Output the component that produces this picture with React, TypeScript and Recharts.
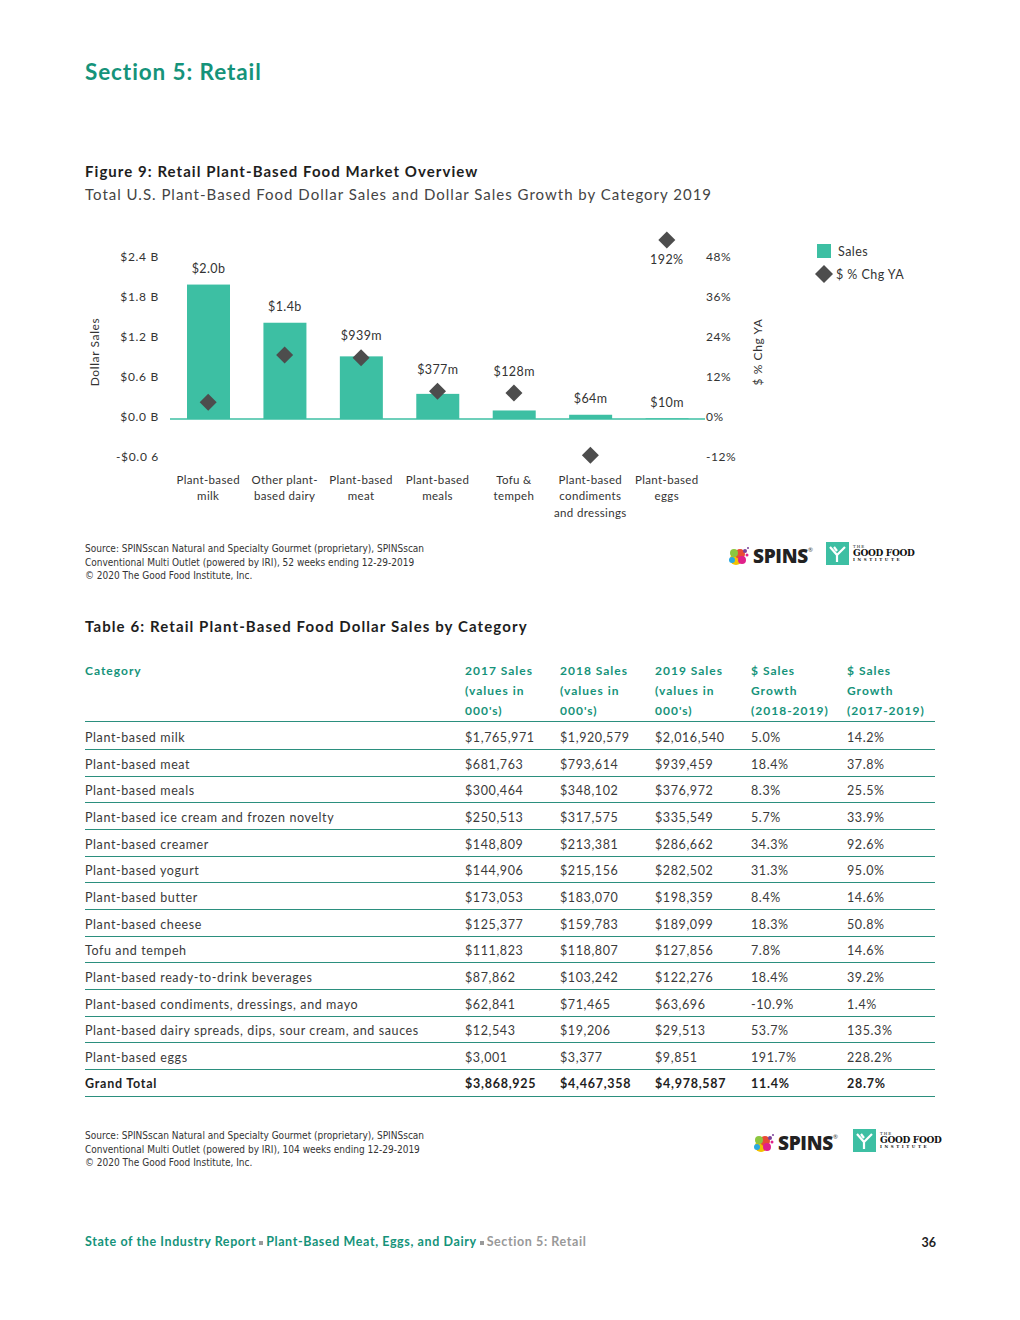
import React from 'react';
import { ComposedChart, Bar, Scatter, XAxis, YAxis, Legend, ReferenceLine } from 'recharts';

// ---------- chart data ----------
const categories = [
  'Plant-based milk',
  'Other plant-based dairy',
  'Plant-based meat',
  'Plant-based meals',
  'Tofu & tempeh',
  'Plant-based condiments and dressings',
  'Plant-based eggs',
];
const categoryLines = [
  ['Plant-based', 'milk'],
  ['Other plant-', 'based dairy'],
  ['Plant-based', 'meat'],
  ['Plant-based', 'meals'],
  ['Tofu &', 'tempeh'],
  ['Plant-based', 'condiments', 'and dressings'],
  ['Plant-based', 'eggs'],
];
const salesB = [2.0165, 1.444, 0.9395, 0.377, 0.1279, 0.0637, 0.00985];
const salesLabels = ['$2.0b', '$1.4b', '$939m', '$377m', '$128m', '$64m', '$10m'];
const pctChg = [5.0, 19.2, 18.4, 8.3, 7.8, -10.9, 191.7];
const pctLabels = ['', '', '', '', '', '', '192%'];
const leftTicks = [-0.6, 0, 0.6, 1.2, 1.8, 2.4];
const leftTickLabels = ['-$0.0 6', '$0.0 B', '$0.6 B', '$1.2 B', '$1.8 B', '$2.4 B'];
const rightTicks = [-12, 0, 12, 24, 36, 48];
const rightTickLabels = ['-12%', '0%', '12%', '24%', '36%', '48%'];

const LEFT_DOMAIN: [number, number] = [-0.6, 2.7];
const RIGHT_DOMAIN: [number, number] = [-12, 54];
const PCT_CAP = 53.7; // values above the axis are drawn at its top edge
const PCT_TO_B = (LEFT_DOMAIN[1] - LEFT_DOMAIN[0]) / (RIGHT_DOMAIN[1] - RIGHT_DOMAIN[0]);

const chartData = categories.map((c, i) => ({
  category: c,
  sales: salesB[i],
  salesLabel: salesLabels[i],
  pct: Math.min(pctChg[i], PCT_CAP),
  pctLabel: pctLabels[i],
}));

// ---------- table data ----------
const tableCategories = [
  'Plant-based milk',
  'Plant-based meat',
  'Plant-based meals',
  'Plant-based ice cream and frozen novelty',
  'Plant-based creamer',
  'Plant-based yogurt',
  'Plant-based butter',
  'Plant-based cheese',
  'Tofu and tempeh',
  'Plant-based ready-to-drink beverages',
  'Plant-based condiments, dressings, and mayo',
  'Plant-based dairy spreads, dips, sour cream, and sauces',
  'Plant-based eggs',
];
const sales2017 = ['$1,765,971', '$681,763', '$300,464', '$250,513', '$148,809', '$144,906', '$173,053', '$125,377', '$111,823', '$87,862', '$62,841', '$12,543', '$3,001'];
const sales2018 = ['$1,920,579', '$793,614', '$348,102', '$317,575', '$213,381', '$215,156', '$183,070', '$159,783', '$118,807', '$103,242', '$71,465', '$19,206', '$3,377'];
const sales2019 = ['$2,016,540', '$939,459', '$376,972', '$335,549', '$286,662', '$282,502', '$198,359', '$189,099', '$127,856', '$122,276', '$63,696', '$29,513', '$9,851'];
const growth1819 = ['5.0%', '18.4%', '8.3%', '5.7%', '34.3%', '31.3%', '8.4%', '18.3%', '7.8%', '18.4%', '-10.9%', '53.7%', '191.7%'];
const growth1719 = ['14.2%', '37.8%', '25.5%', '33.9%', '92.6%', '95.0%', '14.6%', '50.8%', '14.6%', '39.2%', '1.4%', '135.3%', '228.2%'];
const grandTotal = ['Grand Total', '$3,868,925', '$4,467,358', '$4,978,587', '11.4%', '28.7%'];
const tableHeaders = [
  ['Category'],
  ['2017 Sales', '(values in', "000's)"],
  ['2018 Sales', '(values in', "000's)"],
  ['2019 Sales', '(values in', "000's)"],
  ['$ Sales', 'Growth', '(2018-2019)'],
  ['$ Sales', 'Growth', '(2017-2019)'],
];

// ---------- styles ----------
const FONT = "Lato, 'Open Sans', 'Noto Sans', sans-serif";
const NARROW = "'Liberation Sans Narrow', 'Arial Narrow', 'DejaVu Sans Condensed', sans-serif";
const TEAL = '#3dbfa3';
const DARK_TEAL = '#15937a';
const LINE_TEAL = '#2b8f7e';
const DIAMOND = '#4d4d4d';
const TEXT = '#333333';

const colX = [85, 465, 560, 655, 751, 847];
const ROW_H = 26.65;
const ROW_TOP = 724;

// ---------- chart pieces ----------
const XTick = (props: any) => {
  const { x, y, payload } = props;
  const idx = categories.indexOf(payload.value);
  const lines = idx >= 0 ? categoryLines[idx] : [payload.value];
  return (
    <g>
      {lines.map((l: string, i: number) => (
        <text key={i} x={x} y={y + 20 + i * 16.5} textAnchor="middle" dominantBaseline="central"
          fontSize={11.5} fill={TEXT} fontFamily={FONT} letterSpacing={0.35}>
          {l}
        </text>
      ))}
    </g>
  );
};

const LeftTick = (props: any) => {
  const { x, y, payload } = props;
  const i = leftTicks.indexOf(payload.value);
  return (
    <text x={x} y={y - 3} textAnchor="end" dominantBaseline="central" fontSize={12} fill={TEXT}
      fontFamily={FONT} letterSpacing={0.7}>
      {i >= 0 ? leftTickLabels[i] : ''}
    </text>
  );
};

const RightTick = (props: any) => {
  const { x, y, payload } = props;
  const i = rightTicks.indexOf(payload.value);
  return (
    <text x={x} y={y - 3} textAnchor="start" dominantBaseline="central" fontSize={12} fill={TEXT}
      fontFamily={FONT} letterSpacing={0.5}>
      {i >= 0 ? rightTickLabels[i] : ''}
    </text>
  );
};

const BarWithLabel = (props: any) => {
  const { x, y, width, height, payload } = props;
  const zeroY = y + height;
  const pxPerUnit = payload.sales !== 0 ? height / payload.sales : 0;
  const diamondY = zeroY - payload.pct * PCT_TO_B * pxPerUnit;
  let ly = y - 16;
  if (Math.abs(diamondY - (y - 8)) < 22) ly = diamondY - 22;
  return (
    <g>
      <rect x={x} y={y} width={width} height={Math.max(height, 0)} fill={TEAL} />
      <text x={x + width / 2} y={ly} textAnchor="middle" dominantBaseline="central" fontSize={12.5}
        fill={TEXT} fontFamily={FONT} letterSpacing={0.4}>
        {payload.salesLabel}
      </text>
    </g>
  );
};

const DiamondShape = (props: any) => {
  const { cx, cy, payload } = props;
  const r = 8.5;
  return (
    <g>
      <polygon points={`${cx},${cy - r} ${cx + r},${cy} ${cx},${cy + r} ${cx - r},${cy}`} fill={DIAMOND} />
      {payload && payload.pctLabel ? (
        <text x={cx} y={cy + 19} textAnchor="middle" dominantBaseline="central" fontSize={12.5}
          fill={TEXT} fontFamily={FONT} letterSpacing={0.4}>
          {payload.pctLabel}
        </text>
      ) : null}
    </g>
  );
};

const LeftAxisLabel = (props: any) => {
  const vb = props.viewBox || {};
  const cx = (vb.x || 0) + 14;
  const cy = (vb.y || 0) + (vb.height || 0) / 2 + 3;
  return (
    <text x={cx} y={cy} transform={`rotate(-90, ${cx}, ${cy})`} textAnchor="middle" dominantBaseline="central"
      fontSize={12} fill={TEXT} fontFamily={FONT} letterSpacing={0.6}>
      Dollar Sales
    </text>
  );
};

const RightAxisLabel = (props: any) => {
  const vb = props.viewBox || {};
  const cx = (vb.x || 0) + 52;
  const cy = (vb.y || 0) + (vb.height || 0) / 2 + 3;
  return (
    <text x={cx} y={cy} transform={`rotate(-90, ${cx}, ${cy})`} textAnchor="middle" dominantBaseline="central"
      fontSize={12} fill={TEXT} fontFamily={FONT} letterSpacing={0.6}>
      $ % Chg YA
    </text>
  );
};

const LegendContent = () => (
  <div style={{ fontFamily: FONT, fontSize: 12.5, color: TEXT, letterSpacing: 0.45 }}>
    <div style={{ display: 'flex', alignItems: 'center', height: 18, marginBottom: 5 }}>
      <span style={{ display: 'inline-block', width: 14, height: 14, background: TEAL, marginLeft: 0 }} />
      <span style={{ marginLeft: 7 }}>Sales</span>
    </div>
    <div style={{ display: 'flex', alignItems: 'center', height: 18 }}>
      <svg width={18} height={18} style={{ marginLeft: -2 }}>
        <polygon points="9,0 18,9 9,18 0,9" fill={DIAMOND} />
      </svg>
      <span style={{ marginLeft: 3 }}>$ % Chg YA</span>
    </div>
  </div>
);

const Chart = () => (
  <ComposedChart width={860} height={310} data={chartData}
    margin={{ top: 14, right: 175, bottom: 0, left: 0 }}>
    <XAxis dataKey="category" xAxisId="x" height={76} tickLine={false} tickSize={0} tickMargin={0}
      axisLine={false} tick={<XTick />} interval={0} />
    <YAxis yAxisId="left" orientation="left" width={90} domain={LEFT_DOMAIN} ticks={leftTicks}
      axisLine={false} tickLine={false} tickSize={0} tickMargin={11}
      tick={<LeftTick />} label={{ content: <LeftAxisLabel /> }} />
    <YAxis yAxisId="right" orientation="right" width={60} domain={RIGHT_DOMAIN} ticks={rightTicks}
      axisLine={false} tickLine={false} tickSize={0} tickMargin={1}
      tick={<RightTick />} label={{ content: <RightAxisLabel /> }} />
    <Legend layout="vertical" align="center" verticalAlign="middle" content={<LegendContent />}
      wrapperStyle={{ left: 737, top: 17, width: 130, right: 'auto', bottom: 'auto' }} />
    <ReferenceLine y={0} xAxisId="x" yAxisId="left" stroke={TEAL} strokeWidth={1.3} />
    <Bar dataKey="sales" name="Sales" xAxisId="x" yAxisId="left" barSize={43} fill={TEAL}
      shape={<BarWithLabel />} isAnimationActive={false} />
    <Scatter dataKey="pct" name="$ % Chg YA" xAxisId="x" yAxisId="right" fill={DIAMOND}
      shape={<DiamondShape />} isAnimationActive={false} />
  </ComposedChart>
);

// ---------- page pieces ----------
const SpinsLogo = ({ x, y }: { x: number; y: number }) => (
  <div style={{ position: 'absolute', left: x, top: y, display: 'flex', alignItems: 'center' }}>
    <svg width={24} height={22} viewBox="0 0 24 22">
      <circle cx={9} cy={14} r={6} fill="#f2c200" />
      <circle cx={13} cy={9} r={5} fill="#e94b35" />
      <circle cx={7} cy={8} r={4} fill="#8cc63f" />
      <circle cx={15} cy={15} r={4} fill="#e0218a" />
      <circle cx={5} cy={15} r={3} fill="#29a9e0" />
      <circle cx={18} cy={6} r={2} fill="#7b3f98" />
      <circle cx={20} cy={10} r={1.5} fill="#e0218a" />
      <circle cx={21} cy={3} r={1} fill="#7b3f98" />
    </svg>
    <span style={{ fontFamily: "'Open Sans', Roboto, sans-serif", fontWeight: 800, fontSize: 19, color: '#222', marginLeft: 2, letterSpacing: -0.3 }}>SPINS</span>
    <span style={{ fontSize: 6, color: '#444', alignSelf: 'flex-start', marginTop: 3 }}>®</span>
  </div>
);

const GfiLogo = ({ x, y }: { x: number; y: number }) => (
  <div style={{ position: 'absolute', left: x, top: y, display: 'flex', alignItems: 'center' }}>
    <svg width={23} height={23} viewBox="0 0 23 23">
      <rect x={0} y={0} width={23} height={23} fill="#3dbfa3" />
      <path d="M4 5 L11 13 L11 20 M11 13 L19 5 M8 5 L11 9" stroke="#ffffff" strokeWidth={2.2} fill="none" />
    </svg>
    <div style={{ marginLeft: 4, fontFamily: "'DejaVu Serif', serif", color: '#111', lineHeight: 1 }}>
      <div style={{ fontSize: 4, letterSpacing: 1 }}>THE</div>
      <div style={{ fontSize: 9, fontWeight: 700, letterSpacing: -0.3 }}>GOOD FOOD</div>
      <div style={{ fontSize: 4, letterSpacing: 2.6, fontWeight: 700 }}>INSTITUTE</div>
    </div>
  </div>
);

const SourceNote = ({ top, weeks }: { top: number; weeks: string }) => (
  <div style={{ position: 'absolute', left: 85, top, fontFamily: NARROW, fontSize: 10, lineHeight: '13.5px', color: TEXT }}>
    <div>Source: SPINSscan Natural and Specialty Gourmet (proprietary), SPINSscan</div>
    <div>Conventional Multi Outlet (powered by IRI), {weeks} weeks ending 12-29-2019</div>
    <div>© 2020 The Good Food Institute, Inc.</div>
  </div>
);

const Table = () => {
  const rows = tableCategories.map((c, i) => [c, sales2017[i], sales2018[i], sales2019[i], growth1819[i], growth1719[i]]);
  const allRows = [...rows, grandTotal];
  return (
    <div>
      {tableHeaders.map((h, ci) => (
        <div key={ci} style={{ position: 'absolute', left: colX[ci], top: 661, fontFamily: FONT, fontWeight: 700, fontSize: 12, lineHeight: '20px', color: DARK_TEAL, letterSpacing: 1.0, whiteSpace: 'nowrap' }}>
          {h.map((l, li) => <div key={li}>{l}</div>)}
        </div>
      ))}
      <div style={{ position: 'absolute', left: 85, top: 721, width: 850, height: 0, borderTop: `1.6px solid ${LINE_TEAL}` }} />
      {allRows.map((r, ri) => {
        const isTotal = ri === allRows.length - 1;
        const top = ROW_TOP + ri * ROW_H;
        return (
          <div key={ri}>
            {r.map((cell, ci) => (
              <div key={ci} style={{ position: 'absolute', left: colX[ci], top: top + 4, height: 20, lineHeight: '20px', fontFamily: FONT, fontSize: 12.5, fontWeight: isTotal ? 700 : 400, color: isTotal ? '#1e1e1e' : '#3a3a3a', letterSpacing: isTotal ? 0.75 : 0.6, whiteSpace: 'nowrap' }}>
                {cell}
              </div>
            ))}
            <div style={{ position: 'absolute', left: 85, top: top + ROW_H - 1.5, width: 850, height: 0, borderTop: `1.5px solid ${LINE_TEAL}` }} />
          </div>
        );
      })}
    </div>
  );
};

const Sep = () => (
  <span style={{ display: 'inline-block', width: 4, height: 4, background: '#9a9a9a', margin: '0 3px', verticalAlign: 'middle' }} />
);

export default function App() {
  return (
    <div style={{ position: 'absolute', left: 0, top: 0, width: 1020, height: 1320, background: '#ffffff', overflow: 'hidden', fontFamily: FONT }}>
      <div style={{ position: 'absolute', left: 85, top: 58, fontSize: 22.5, fontWeight: 700, color: DARK_TEAL, lineHeight: '28px', letterSpacing: 0.9 }}>
        Section 5: Retail
      </div>
      <div style={{ position: 'absolute', left: 85, top: 161, fontSize: 15, fontWeight: 700, color: '#1e1e1e', lineHeight: '20px', letterSpacing: 1.05 }}>
        Figure 9: Retail Plant-Based Food Market Overview
      </div>
      <div style={{ position: 'absolute', left: 85, top: 184, fontSize: 15, fontWeight: 400, color: '#444', lineHeight: '20px', letterSpacing: 1.0 }}>
        Total U.S. Plant-Based Food Dollar Sales and Dollar Sales Growth by Category 2019
      </div>

      <div style={{ position: 'absolute', left: 80, top: 225, width: 860, height: 310 }}>
        <Chart />
      </div>

      <SourceNote top={542} weeks="52" />
      <SpinsLogo x={727} y={543} />
      <GfiLogo x={826} y={542} />

      <div style={{ position: 'absolute', left: 85, top: 616, fontSize: 15, fontWeight: 700, color: '#1e1e1e', lineHeight: '20px', letterSpacing: 1.1 }}>
        Table 6: Retail Plant-Based Food Dollar Sales by Category
      </div>
      <Table />

      <SourceNote top={1129} weeks="104" />
      <SpinsLogo x={752} y={1130} />
      <GfiLogo x={853} y={1129} />

      <div style={{ position: 'absolute', left: 85, top: 1233, fontSize: 12.5, fontWeight: 700, lineHeight: '18px', whiteSpace: 'nowrap', letterSpacing: 0.6 }}>
        <span style={{ color: DARK_TEAL }}>State of the Industry Report</span>
        <Sep />
        <span style={{ color: DARK_TEAL }}>Plant-Based Meat, Eggs, and Dairy</span>
        <Sep />
        <span style={{ color: '#999999' }}>Section 5: Retail</span>
      </div>
      <div style={{ position: 'absolute', right: 1020 - 936, top: 1234, fontSize: 12.5, fontWeight: 700, lineHeight: '18px', color: '#1e1e1e' }}>
        36
      </div>
    </div>
  );
}
